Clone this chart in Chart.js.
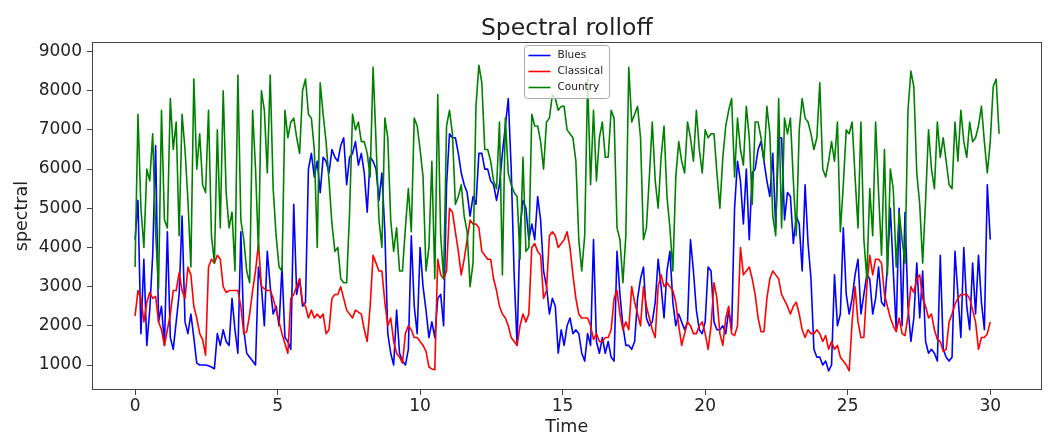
<!DOCTYPE html>
<html>
 <head>
  <title>Spectral rolloff</title>
  <style>
  body {
   margin: 0;
   background: #fff;
  }
  </style>
 </head>
 <body>
 <canvas id="chart" width="1051" height="436"></canvas>
 <script src="https://cdn.jsdelivr.net/npm/chart.js@4.4.1/dist/chart.umd.min.js"></script>
 <script>
 // Rolloff values, one sample every STEP seconds
 const STEP = 0.1031;

 const blues = [
  4200, 5200, 1800, 3700, 1500, 2400, 3800, 6600, 2100, 2500,
  1500, 4400, 1700, 1400, 2100, 2800, 4800, 2100, 1800, 2300,
  1700, 1050, 1000, 1000, 1000, 980, 950, 900, 1800, 1500,
  1900, 1600, 1500, 2700, 1900, 1300, 4400, 1900, 1300, 1200,
  1100, 1000, 3500, 3000, 2000, 3900, 3000, 2300, 2500, 2000,
  3500, 1700, 1600, 1400, 5100, 2800, 3200, 2500, 2600, 6000,
  6400, 5800, 6200, 5400, 6300, 6200, 5900, 6500, 6300, 6200,
  6600, 6800, 5600, 6300, 6400, 6700, 6100, 6400, 5900, 4900,
  6300, 6200, 6000, 5200, 5900, 4400, 1800, 1300, 1000, 2400,
  1300, 1100, 1000, 1400, 4300, 2500, 1800, 4000, 3000, 2400,
  1700, 2100, 1700, 2700, 2800, 2000, 5600, 6900, 6800, 6800,
  6400, 5900, 5600, 5400, 4800, 5300, 5100, 6400, 6400, 6000,
  6000, 5700, 5600, 5200, 5600, 6400, 7100, 7800, 6000, 3300,
  1500, 4500, 5200, 5000, 4200, 4600, 4200, 5300, 4700, 3400,
  3000, 2300, 2700, 2500, 1300, 1900, 1500, 2000, 2200, 1800,
  1900, 1800, 1300, 1100, 1800, 1500, 4200, 1600, 1300, 1700,
  1300, 1600, 1200, 1100, 3900, 2800, 2000, 1500, 1500, 1400,
  1600, 2700, 3200, 3500, 2200, 2000, 2100, 2600, 3700, 3000,
  2200, 3400, 3900, 2600, 2000, 2300, 2100, 1900, 2100, 4200,
  3400, 2400, 1900, 1800, 2100, 3500, 3400, 2100, 1900, 1900,
  2000, 1800, 2400, 1900, 5000, 6200, 5700, 4600, 6000, 4200,
  5900, 6000, 6500, 6700, 6200, 5700, 5300, 6400, 4500, 6800,
  6800, 4700, 5400, 5300, 4100, 4800, 4600, 3400, 5600, 4100,
  3200, 1400, 1200, 1200, 1000, 1100, 850, 1000, 3300, 2000,
  2300, 4500, 2800, 2300, 2700, 3300, 3700, 2300, 2800, 3300,
  3200, 2300, 2700, 3500, 2600, 2500, 3500, 5000, 3400, 1900,
  5000, 2000, 4900, 2500, 1600, 2200, 3600, 2200, 3400, 1600,
  1300, 1400, 1300, 1100, 3800, 1400, 1200, 1100, 1200, 3900,
  2800, 1700, 4000, 2500, 1900, 3600, 2300, 3800, 2600, 1900,
  5600, 4200
 ];

 const classical = [
  2250, 2900, 2700, 2100, 2600, 2850, 2700, 2750, 2100, 1900,
  1500, 1900, 2300, 2900, 2900, 3350, 2900, 2700, 3500, 3300,
  2500, 2200, 1800, 1650, 1250, 3500, 3700, 3600, 3800, 3700,
  3000, 2850, 2900, 2900, 2900, 2900, 2500, 1800, 1850, 2300,
  2900, 3400, 4100, 3000, 2950, 2900, 2900, 2700, 2400, 2100,
  1800, 1550, 1300, 2700, 2800, 3000, 3200, 2600, 2500, 2200,
  2400, 2200, 2300, 2200, 2300, 1800, 1900, 2700, 2800, 2800,
  3000, 2700, 2400, 2300, 2200, 2400, 2350, 2300, 1900, 1600,
  2500, 3800, 3600, 3400, 3400, 2600, 2000, 2200, 1600, 1300,
  1200, 1050, 1800, 2000, 1900, 1700, 1700, 1600, 1500, 1350,
  950, 900, 880, 3700, 3300, 3200, 3400, 5000, 4900, 4400,
  3900, 3300, 3700, 4200, 4700, 4600, 4600, 4500, 3900, 3800,
  3700, 3700, 3200, 2900, 2500, 2300, 2200, 2000, 1700, 1600,
  1500, 2000, 2300, 2100, 2300, 4000, 4100, 3900, 3800, 2700,
  2900, 4300, 4400, 4300, 4000, 4100, 4200, 4400, 4000, 3300,
  2700, 2300, 2200, 2200, 2200, 2000, 1650, 1800, 1600, 1600,
  1700, 1700, 1900, 2700, 2900, 2300, 1900, 2100, 1900, 3000,
  2600, 2300, 2000, 3000, 2500, 2200, 1900, 1700, 3000, 3300,
  3000, 3100, 3000, 2900, 2600, 2000, 1500, 1800, 2100, 2000,
  1800, 1800, 2000, 2100, 1800, 1400, 2000, 3100, 2700, 1800,
  1500, 2200, 2500, 1800, 1750, 2000, 4000, 3300, 3400, 3500,
  3200, 2800, 2200, 1850, 1850, 2700, 3200, 3400, 3300, 3200,
  2800, 2650, 2500, 2300, 2500, 2600, 2300, 1900, 1700, 1900,
  1800, 1800, 1900, 1800, 1600, 1750, 1400, 1600, 1400, 1500,
  1200, 1100, 1000, 850, 2100, 3000, 2100, 1700, 1700, 3000,
  3800, 3300, 3700, 3700, 3600, 2800, 2500, 2200, 2000, 1850,
  2200, 1800, 1750, 2250, 3000, 2850, 3200, 3300, 2700, 2500,
  2200, 2300, 1900, 1650, 1600, 1350, 1400, 2100, 2300, 2550,
  2700, 2800, 2800, 2800, 2700, 2400, 2100, 1400, 1700, 1700,
  1800, 2100
 ];

 const country = [
  3500, 7400, 5000, 4000, 6000, 5700, 6900, 4400, 2950, 7500,
  4700, 4500, 7800, 6500, 7200, 4300, 7400, 6500, 5200, 3500,
  8300, 6000, 6900, 5600, 5400, 7500, 4300, 3600, 7000, 4500,
  8000, 5400, 4500, 4900, 3400, 8400, 4700, 4200, 3400, 3100,
  7500, 6000, 3900, 8000, 7500, 5900, 8400, 5500, 4300, 3500,
  3400, 7500, 6800, 7200, 7300, 6800, 6400, 8000, 8300, 7400,
  7300, 6500, 4000, 8200, 7400, 6700, 5700, 4600, 3900, 4000,
  3200, 3100, 3100, 4900, 7400, 7000, 7200, 6700, 6700, 6400,
  5800, 8600, 6700, 4700, 4000, 7300, 6800, 4700, 3900, 4500,
  3400, 3400, 4500, 5500, 4400, 7300, 7100, 6500, 5800, 3400,
  4000, 6200, 3200, 7900, 4300, 3200, 7100, 7500, 6900, 5100,
  5300, 5600, 4800, 4400, 3000, 3600, 7600, 8650, 8200, 6500,
  6500, 6200, 5700, 5500, 7200, 3300, 7300, 5900, 5600, 5400,
  5300, 3700, 6300, 3900, 4000, 7400, 7100, 7100, 6700, 6000,
  7200, 7300, 7900, 7800, 7500, 7600, 7600, 7000, 6900, 6800,
  6200, 4200, 3400, 4300, 8300, 5600, 7500, 5700, 6800, 7200,
  6300, 6300, 7500, 7300, 4500, 4200, 3100, 4300, 8600, 7200,
  7400, 7600, 6800, 4200, 4500, 5800, 7200, 5700, 5000, 6300,
  7100, 5300, 4500, 3400, 5800, 6700, 6200, 5900, 7200, 6800,
  6200, 7500, 6500, 5900, 7000, 6800, 6900, 6900, 5900, 5000,
  6300, 7100, 7500, 7800, 5800, 7300, 6500, 6100, 7600, 6800,
  5100, 7200, 7200, 6800, 6200, 7600, 6900, 4800, 4300, 7800,
  4500, 7300, 6900, 7300, 5700, 4300, 7000, 7800, 7300, 7200,
  6900, 6500, 6800, 8200, 6000, 5800, 6200, 6700, 6200, 7200,
  4400, 5600, 7000, 6900, 7200, 5800, 4500, 7200, 4200, 3200,
  5500, 4300, 7200, 5400, 3800, 6500, 3300, 6000, 5500, 3500,
  4900, 4200, 3600, 7500, 8500, 8100, 5900, 5100, 3600, 5200,
  7000, 6000, 5500, 7200, 6300, 6800, 6200, 5600, 5500, 7200,
  6200, 7500, 6700, 6300, 7200, 6700, 6800, 7100, 7600, 6700,
  5900, 6700, 8100, 8300, 6900
 ];

 const chartTitle = 'Spectral rolloff';
 const seriesNames = ['Blues', 'Classical', 'Country'];
 const seriesColors = ['blue', 'red', 'green'];
 const xTicks = [0, 5, 10, 15, 20, 25, 30];
 const yTicks = [1000, 2000, 3000, 4000, 5000, 6000, 7000, 8000, 9000];

 const FONT = 'DejaVu Sans';
 const INK = '#222';

 function toPoints(values) {
  return values.map((v, i) => ({x: i * STEP, y: v}));
 }

 // matplotlib style: title centred on the axes, box round the axes, small legend at the top
 const frameAndLegend = {
  id: 'frameAndLegend',
  afterDatasetsDraw(chart) {
   const ctx = chart.ctx;
   const ca = chart.chartArea;
   const midX = (ca.left + ca.right) / 2;
   ctx.save();

   ctx.font = '23.5px "' + FONT + '"';
   ctx.fillStyle = INK;
   ctx.textAlign = 'center';
   ctx.textBaseline = 'alphabetic';
   ctx.fillText(chartTitle, midX, ca.top - 7);

   ctx.strokeStyle = '#444';
   ctx.lineWidth = 1;
   ctx.strokeRect(Math.round(ca.left) + 0.5, Math.round(ca.top) + 0.5,
    Math.round(ca.right - ca.left) - 1, Math.round(ca.bottom - ca.top) - 1);

   const w = 85, h = 53;
   const left = Math.round(midX - w / 2) + 0.5;
   const top = Math.round(ca.top) + 3.5;
   ctx.beginPath();
   ctx.roundRect(left, top, w, h, 3);
   ctx.fillStyle = 'rgba(255,255,255,0.8)';
   ctx.fill();
   ctx.strokeStyle = '#aaa';
   ctx.stroke();

   ctx.font = '10.5px "' + FONT + '"';
   ctx.textBaseline = 'middle';
   ctx.textAlign = 'left';
   seriesNames.forEach((name, i) => {
    const y = top + 10 + i * 16;
    ctx.beginPath();
    ctx.moveTo(left + 4, y);
    ctx.lineTo(left + 26, y);
    ctx.strokeStyle = seriesColors[i];
    ctx.lineWidth = 1.6;
    ctx.stroke();
    ctx.fillStyle = INK;
    ctx.fillText(name, left + 33, y);
   });
   ctx.restore();
  }
 };

 const allSeries = [blues, classical, country];
 const datasets = allSeries.map((values, i) => ({
  label: seriesNames[i],
  data: toPoints(values),
  borderColor: seriesColors[i],
  borderWidth: 1.6,
  pointRadius: 0,
  tension: 0,
  fill: false,
  borderJoinStyle: 'round',
  order: allSeries.length - 1 - i
 }));

 const axisGrid = {drawOnChartArea: false, drawTicks: true, tickLength: 5, color: '#444', lineWidth: 1};

 new Chart(document.getElementById('chart').getContext('2d'), {
  type: 'line',
  data: {datasets: datasets},
  options: {
   responsive: false,
   animation: false,
   devicePixelRatio: 1,
   parsing: false,
   layout: {padding: {left: 0, right: 9.5, top: 42, bottom: 0}},
   plugins: {
    legend: {display: false},
    tooltip: {enabled: false},
    title: {display: false}
   },
   scales: {
    x: {
     type: 'linear',
     min: -1.51,
     max: 31.8,
     afterBuildTicks: scale => { scale.ticks = xTicks.map(v => ({value: v})); },
     afterFit: scale => { scale.height = 46; },
     grid: axisGrid,
     border: {display: false},
     ticks: {padding: 1, color: INK, maxRotation: 0, font: {family: FONT, size: 17}, callback: v => String(v)},
     title: {display: true, text: 'Time', color: INK, padding: 0, font: {family: FONT, size: 17.5, lineHeight: 1}}
    },
    y: {
     type: 'linear',
     min: 362,
     max: 9243,
     afterBuildTicks: scale => { scale.ticks = yTicks.map(v => ({value: v})); },
     afterFit: scale => { scale.width = 92; },
     grid: axisGrid,
     border: {display: false},
     ticks: {padding: 5, color: INK, font: {family: FONT, size: 17}, callback: v => String(v)},
     title: {display: true, text: 'spectral', color: INK, padding: {top: 12, bottom: 0}, font: {family: FONT, size: 17.5, lineHeight: 1.2}}
    }
   }
  },
  plugins: [frameAndLegend]
 });
 </script>
 </body>
</html>
